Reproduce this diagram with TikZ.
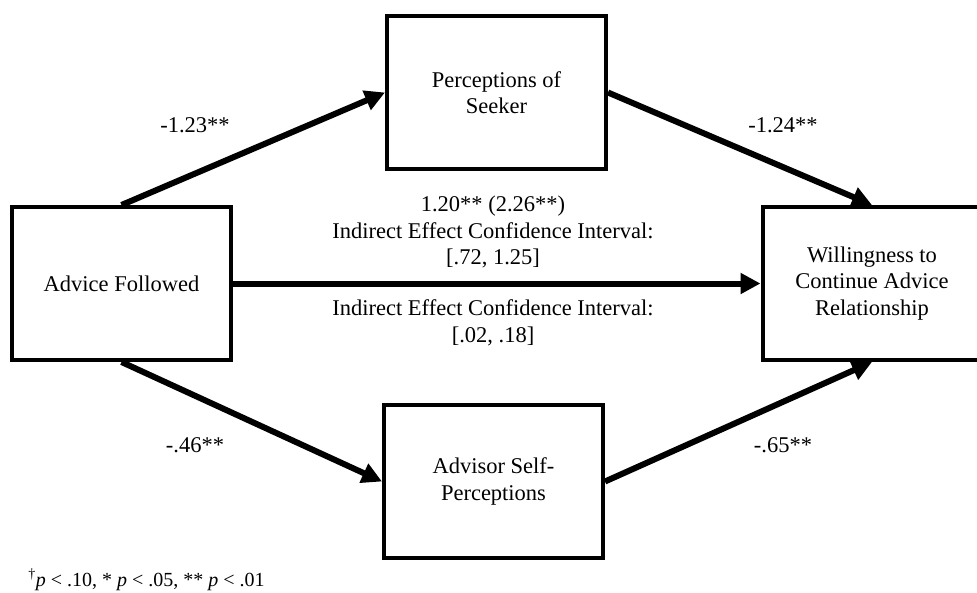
\documentclass[tikz,border=0pt]{standalone}
\usepackage{fontspec}
\setmainfont{Liberation Serif}
\usetikzlibrary{arrows.meta}
\begin{document}
\begin{tikzpicture}[x=1pt,y=-1pt,
  varbox/.style={draw,line width=4pt,minimum width=219pt,minimum height=153pt,align=center,font=\fontsize{22.5}{26.5}\selectfont},
  effect/.style={line width=6pt,-{Triangle[length=20pt,width=20pt]}},
  coef/.style={font=\fontsize{22.5}{26.5}\selectfont,align=center}]
 \useasboundingbox (0,0) rectangle (977,592);

 % variables
 \node[varbox] (advice) at (121.5,283.5) {Advice Followed};
 \node[varbox] (seeker) at (496.5,92.5) {Perceptions of\\Seeker};
 \node[varbox] (self) at (493.5,481.5) {Advisor Self-\\Perceptions};
 \node[varbox] (willing) at (872,283.5) {Willingness to\\Continue Advice\\Relationship};

 % paths
 \draw[effect] (advice.north) -- (seeker.west);
 \draw[effect] (seeker.east) -- (willing.north);
 \draw[effect] (advice.east) -- (willing.west);
 \draw[effect] (advice.south) -- (self.west);
 \draw[effect] (self.east) -- (willing.south);

 % coefficients
 \node[coef] (aSeeker) at (195,125) {-1.23**};
 \node[coef] (bSeeker) at (783,125) {-1.24**};
 \node[coef] (aSelf) at (195,445) {-.46**};
 \node[coef] (bSelf) at (783,445) {-.65**};
 \node[coef] (direct) at (493,232) {1.20** (2.26**)\\Indirect Effect Confidence Interval:\\{[.72, 1.25]}};
 \node[coef] (indirect) at (493,323) {Indirect Effect Confidence Interval:\\{[.02, .18]}};

 \node[font=\fontsize{20}{24}\selectfont] (note) at (146.5,580) {\textsuperscript{†}\textit{p} < .10, * \textit{p} < .05, ** \textit{p} < .01};
\end{tikzpicture}
\end{document}
